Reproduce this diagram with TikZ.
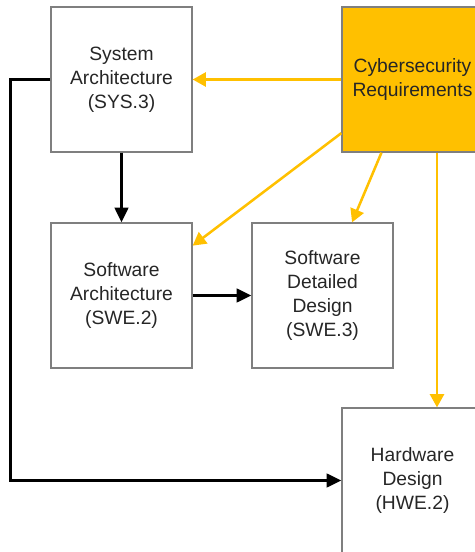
\documentclass[tikz,border=0pt]{standalone}
\usepackage{fontspec}
\setmainfont{Liberation Sans}
\usepackage{tikz}
\usetikzlibrary{positioning,arrows.meta,calc}
\definecolor{csorange}{HTML}{FFC000}
\definecolor{csgray}{HTML}{7F7F7F}
\definecolor{cstext}{HTML}{262626}

\begin{document}
\begin{tikzpicture}[x=0.025cm,y=0.025cm,
    proc/.style={draw=csgray,line width=0.9pt,minimum width=3.525cm,
                 minimum height=3.625cm,inner sep=0pt,align=center,text=cstext,
                 font=\fontsize{13.7}{17}\selectfont},
    flow/.style={line width=2pt,-{Triangle[length=3.7mm,width=3.4mm]}},
    req/.style={csorange,line width=1.8pt,-{Triangle[length=3.3mm,width=3.5mm]}}]
    \useasboundingbox (0,0) rectangle (474,552);
    % process boxes
    \node[proc] (sys) at (121.5,472.5){System\\Architecture\\(SYS.3)};
    \node[proc,fill=csorange] (cyber) at (412.5,472.5){Cybersecurity\\Requirements};
    \node[proc] (swe2) at (121.5,256.5){Software\\Architecture\\(SWE.2)};
    \node[proc] (swe3) at (322.5,256.5){Software\\Detailed\\Design\\(SWE.3)};
    \node[proc] (hwe) at (412.5,71.5){Hardware\\Design\\(HWE.2)};
    % requirements flow
    \draw[req] (cyber.west) -- (sys.east);
    \draw[req] (cyber.217) -- (swe2.35);
    \draw[req] (cyber.247) -- (swe3.68);
    \draw[req] ([xshift=0.6125cm]cyber.south) -- ([xshift=0.6125cm]hwe.north);
    % architecture flow
    \draw[flow] (sys.west) -- ++(-40,0) |- (hwe.west);
    \draw[flow] (sys.south) -- (swe2.north);
    \draw[flow] (swe2.east) -- (swe3.west);
  \end{tikzpicture}
\end{document}
